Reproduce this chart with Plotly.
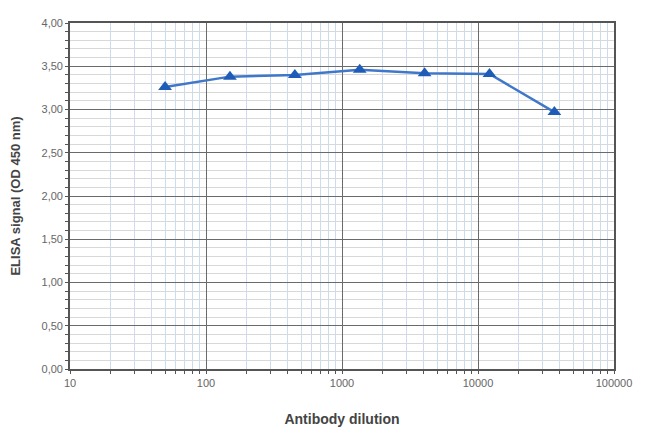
import plotly.graph_objects as go

dilution = [50, 150, 450, 1350, 4050, 12150, 36450]
signal = [3.26, 3.38, 3.40, 3.46, 3.42, 3.41, 2.97]

x_tickvals = [10, 100, 1000, 10000, 100000]
x_ticktext = ["10", "100", "1000", "10000", "100000"]
y_tickvals = [0, 0.5, 1.0, 1.5, 2.0, 2.5, 3.0, 3.5, 4.0]
y_ticktext = ["0,00", "0,50", "1,00", "1,50", "2,00", "2,50", "3,00", "3,50", "4,00"]

fig = go.Figure()
fig.add_trace(go.Scatter(
    x=dilution, y=signal, mode="lines+markers",
    line=dict(color="#3f78c8", width=2.5),
    marker=dict(symbol="triangle-up", size=12, color="#1f5cb8"),
    showlegend=False,
))

font = "Liberation Sans, Arial, sans-serif"
fig.update_layout(
    width=650, height=432,
    margin=dict(l=62, r=44, t=15, b=71),
    paper_bgcolor="white", plot_bgcolor="white",
    font=dict(family=font, size=11, color="#555555"),
    xaxis=dict(
        type="log", range=[1, 5], automargin=False,
        tickvals=x_tickvals, ticktext=x_ticktext,
        showgrid=True, gridcolor="#6a6a6a", gridwidth=1.3,
        showline=True, linecolor="#555555", linewidth=1.6, mirror=True,
        ticks="outside", ticklen=3, tickcolor="#555555",
        minor=dict(dtick="D1", showgrid=True, gridcolor="#c9dcf0", gridwidth=1,
                   ticks="outside", ticklen=3, tickcolor="#555555"),
        zeroline=False,
        title=dict(text="<b>Antibody dilution</b>", font=dict(size=14, color="#444444"), standoff=26),
        tickfont=dict(size=11, color="#666666"),
    ),
    yaxis=dict(
        range=[0, 4], automargin=False,
        tickvals=y_tickvals, ticktext=y_ticktext,
        showgrid=True, gridcolor="#6a6a6a", gridwidth=1.3,
        showline=True, linecolor="#555555", linewidth=1.6, mirror=True,
        ticks="outside", ticklen=3, tickcolor="#555555",
        minor=dict(dtick=0.1, showgrid=True, gridcolor="#d8d8d8", gridwidth=1,
                   ticks="outside", ticklen=3, tickcolor="#555555"),
        zeroline=False,
        title=dict(text="<b>ELISA signal (OD 450 nm)</b>", font=dict(size=13, color="#444444"), standoff=21),
        tickfont=dict(size=11, color="#666666"),
    ),
)

fig.write_html("out.html")
